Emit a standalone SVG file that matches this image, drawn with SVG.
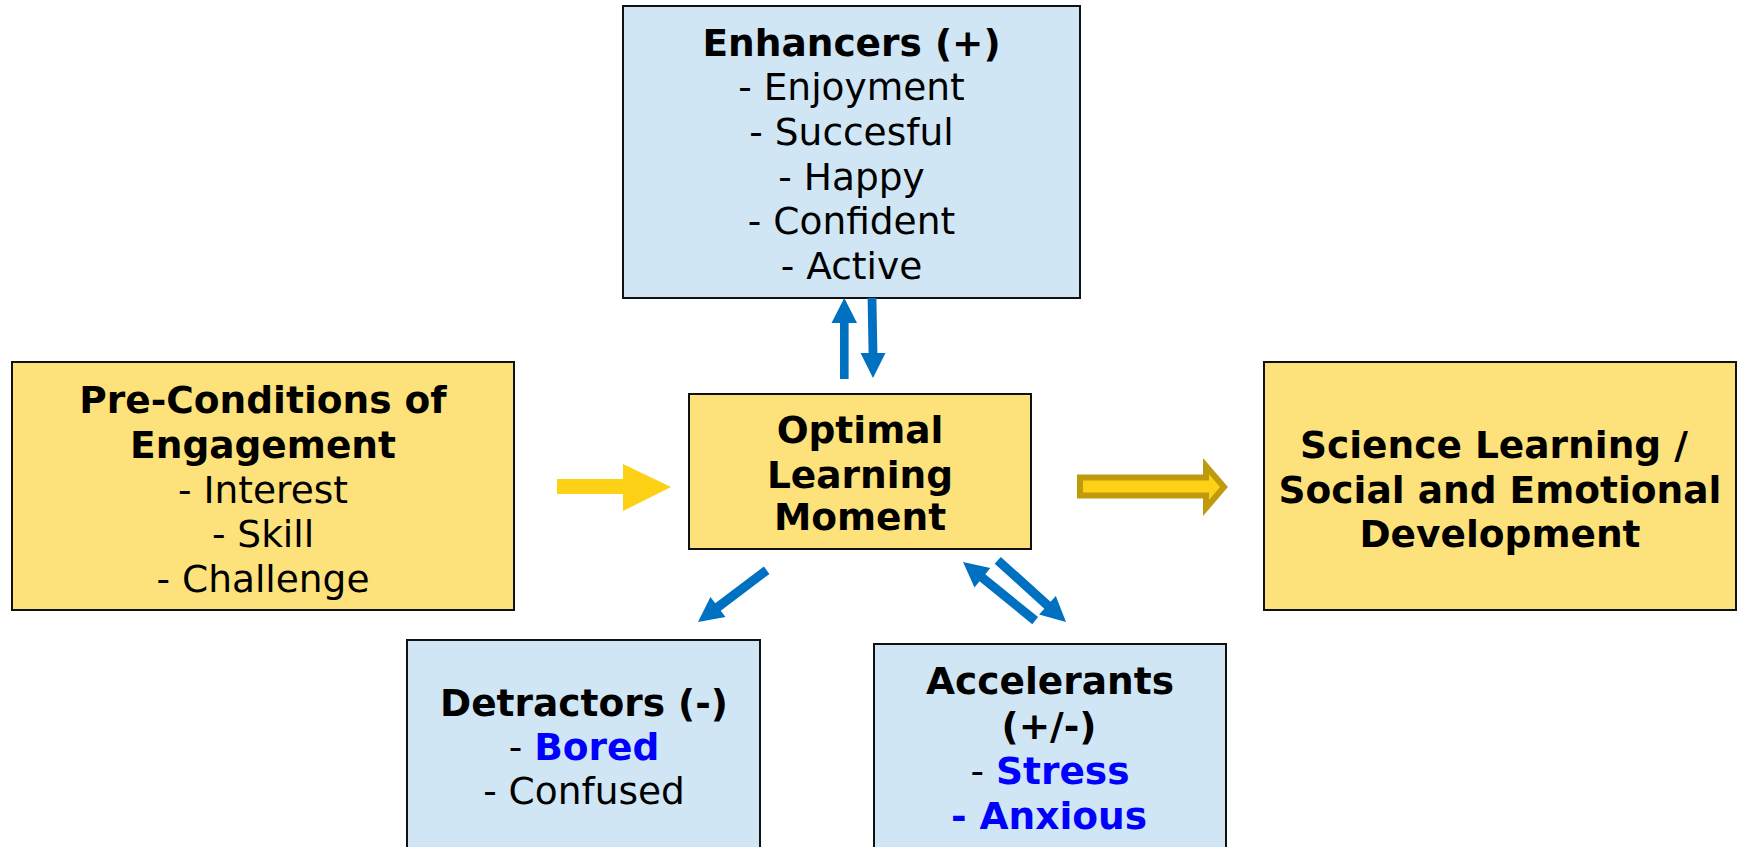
<svg xmlns="http://www.w3.org/2000/svg" width="1737" height="847" viewBox="0 0 1737 847">
  <style>
    .box { stroke: #111; stroke-width: 2; }
    .yellow { fill: #FDE17A; }
    .blue { fill: #D0E6F4; }
    text { font-family: "DejaVu Sans", Verdana, sans-serif; font-size: 37.5px; text-anchor: middle; fill: #000; }
    .b { font-weight: bold; }
    .hl { font-weight: bold; fill: #0000FF; }
    .flow { fill: #0070C0; }
  </style>

  <rect width="1737" height="847" fill="#fff"/>

  <g id="enhancers">
    <rect class="box blue" x="623" y="6" width="457" height="292"/>
    <text x="851.5" y="56" class="b">Enhancers (+)</text>
    <text x="851.5" y="100">- Enjoyment</text>
    <text x="851.5" y="145">- Succesful</text>
    <text x="851.5" y="190">- Happy</text>
    <text x="851.5" y="234">- Confident</text>
    <text x="851.5" y="279">- Active</text>
  </g>

  <g id="preconditions">
    <rect class="box yellow" x="12" y="362" width="502" height="248"/>
    <text x="263" y="413" class="b">Pre-Conditions of</text>
    <text x="263" y="458" class="b">Engagement</text>
    <text x="263" y="503">- Interest</text>
    <text x="263" y="547">- Skill</text>
    <text x="263" y="592">- Challenge</text>
  </g>

  <g id="optimal">
    <rect class="box yellow" x="689" y="394" width="342" height="155"/>
    <text x="860" y="443" class="b">Optimal</text>
    <text x="860" y="488" class="b">Learning</text>
    <text x="860" y="530" class="b">Moment</text>
  </g>

  <g id="outcomes">
    <rect class="box yellow" x="1264" y="362" width="472" height="248"/>
    <text x="1494" y="458" class="b">Science Learning /</text>
    <text x="1500" y="503" class="b">Social and Emotional</text>
    <text x="1500" y="547" class="b">Development</text>
  </g>

  <g id="detractors">
    <rect class="box blue" x="407" y="640" width="353" height="230"/>
    <text x="584" y="716" class="b">Detractors (-)</text>
    <text x="584" y="760">- <tspan class="hl">Bored</tspan></text>
    <text x="584" y="804">- Confused</text>
  </g>

  <g id="accelerants">
    <rect class="box blue" x="874" y="644" width="352" height="230"/>
    <text x="1050" y="694" class="b">Accelerants</text>
    <text x="1049" y="739" class="b">(+/-)</text>
    <text x="1050" y="784">- <tspan class="hl">Stress</tspan></text>
    <text x="1049" y="829" class="hl">- Anxious</text>
  </g>

  <g id="connectors">
    <!-- optimal moment <-> enhancers -->
    <path class="flow" d="M840,379 V323 H831.5 L844.3,298 L857,323 H848.6 V379 Z"/>
    <path class="flow" d="M867.6,298 H876.4 L877.4,353 H885.5 L873,378 L860.5,353 H868.6 Z"/>
    <!-- block arrows drawn with the tip at the origin, pointing along +x -->
    <!-- optimal moment -> detractors -->
    <path class="flow" transform="translate(698,622) rotate(143)" d="M0,0 L-25,-12.5 V-4.6 H-86 V4.6 H-25 V12.5 Z"/>
    <!-- optimal moment <-> accelerants -->
    <path class="flow" transform="translate(963,562) rotate(-140.9)" d="M0,0 L-25,-12.5 V-4.6 H-93 V4.6 H-25 V12.5 Z"/>
    <path class="flow" transform="translate(1066,622) rotate(42.1)" d="M0,0 L-25,-12.5 V-4.6 H-92 V4.6 H-25 V12.5 Z"/>
    <!-- pre-conditions -> optimal moment -->
    <path d="M557,479 H623 V464 L671,487 L623,511 V494 H557 Z" fill="#FCD116"/>
    <!-- optimal moment => outcomes -->
    <path d="M1080,477.5 H1206 V466 L1224,487 L1206,508 V495.5 H1080 Z" fill="#FCD116" stroke="#BF9A0C" stroke-width="6"/>
  </g>
</svg>
